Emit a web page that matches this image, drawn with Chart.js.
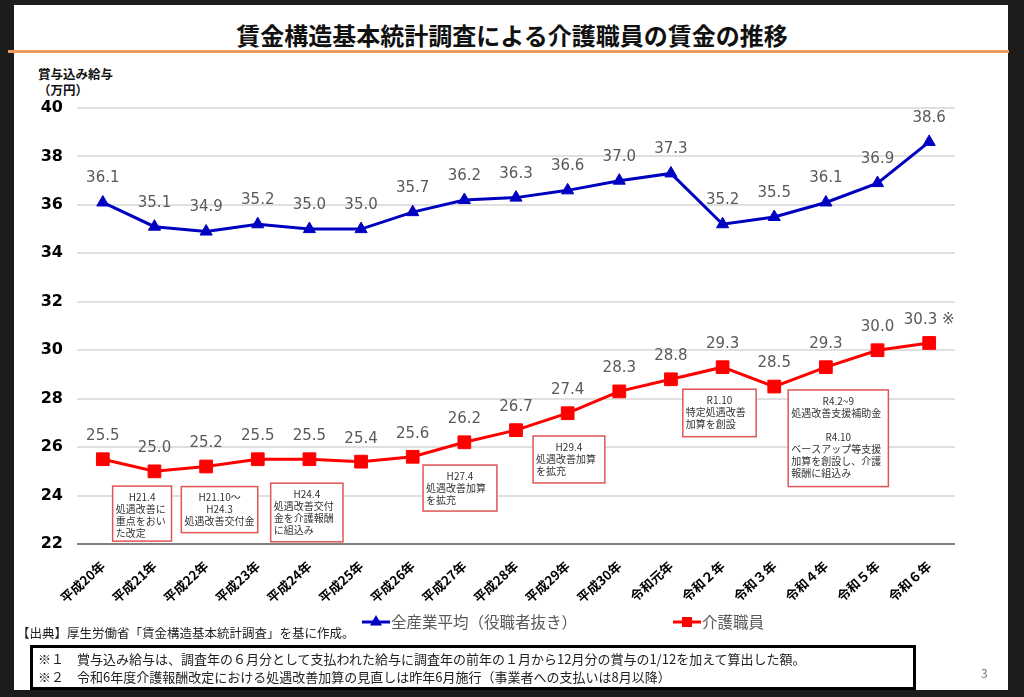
<!DOCTYPE html>
<html lang="ja">
<head>
<meta charset="utf-8">
<title>賃金構造基本統計調査による介護職員の賃金の推移</title>
<script src="https://cdn.jsdelivr.net/npm/chart.js@4.4.1/dist/chart.umd.min.js"></script>
<style>
body{margin:0;width:1024px;height:697px;background:#1c1c1c;overflow:hidden;position:relative;font-family:"Noto Sans CJK JP",sans-serif}
#slide{position:absolute;left:14px;top:5px;width:994px;height:685px;background:#fff}
#title{position:absolute;left:0;top:18px;width:1024px;text-align:center;font-weight:bold;font-size:24px;line-height:34px;color:#111}
#rule{position:absolute;left:8px;top:50px;width:1001px;height:3px;background:#ef9b5c}
#yunit{position:absolute;left:38px;top:66px;font-weight:bold;font-size:12.5px;line-height:16px;color:#111}
#c{position:absolute;left:0;top:0}
#src{position:absolute;left:17px;top:624px;font-size:12.5px;line-height:18px;color:#222}
#notes{position:absolute;left:30px;top:645px;width:886px;height:45px;box-sizing:border-box;border:3px solid #000;padding:2px 0 0 5px;font-size:13px;line-height:18px;color:#222}
#page{position:absolute;left:981px;top:664px;font-size:12px;color:#777}
</style>
</head>
<body>
<div id="slide"></div>
<div id="title">賃金構造基本統計調査による介護職員の賃金の推移</div>
<div id="rule"></div>
<div id="yunit">賞与込み給与<br>（万円）</div>
<canvas id="c" width="1024" height="697"></canvas>
<div id="src">【出典】厚生労働省「賃金構造基本統計調査」を基に作成。</div>
<div id="notes">※１　賞与込み給与は、調査年の６月分として支払われた給与に調査年の前年の１月から12月分の賞与の1/12を加えて算出した額。<br>※２　令和6年度介護報酬改定における処遇改善加算の見直しは昨年6月施行（事業者への支払いは8月以降）</div>
<div id="page">3</div>
<script>
// 年
var years = ["平成20年","平成21年","平成22年","平成23年","平成24年","平成25年","平成26年","平成27年","平成28年","平成29年","平成30年","令和元年","令和２年","令和３年","令和４年","令和５年","令和６年"];
// 万円
var allIndustry = [36.1,35.1,34.9,35.2,35.0,35.0,35.7,36.2,36.3,36.6,37.0,37.3,35.2,35.5,36.1,36.9,38.6];
var careWorkers = [25.5,25.0,25.2,25.5,25.5,25.4,25.6,26.2,26.7,27.4,28.3,28.8,29.3,28.5,29.3,30.0,30.3];
var seriesNames = ["全産業平均（役職者抜き）","介護職員"];
var yTicks = [22,24,26,28,30,32,34,36,38,40];

// 吹き出し（x はカテゴリ位置、top/bottom は目盛の値）
var notes = [
  {x0:0.19,x1:1.33,top:24.39,bottom:22.12,lines:[["c","H21.4"],["l","処遇改善に"],["l","重点をおい"],["l","た改定"]]},
  {x0:1.52,x1:3.00,top:24.37,bottom:22.47,lines:[["c","H21.10～"],["c","H24.3"],["c","処遇改善交付金"]]},
  {x0:3.25,x1:4.65,top:24.51,bottom:22.09,lines:[["c","H24.4"],["l","処遇改善交付"],["l","金を介護報酬"],["l","に組込み"]]},
  {x0:6.20,x1:7.63,top:25.26,bottom:23.36,lines:[["c","H27.4"],["l","処遇改善加算"],["l","を拡充"]]},
  {x0:8.33,x1:9.72,top:26.46,bottom:24.52,lines:[["c","H29.4"],["l","処遇改善加算"],["l","を拡充"]]},
  {x0:11.23,x1:12.65,top:28.39,bottom:26.43,lines:[["c","R1.10"],["l","特定処遇改善"],["l","加算を創設"]]},
  {x0:13.27,x1:15.21,top:28.36,bottom:24.37,lines:[["c","R4.2~9"],["l","処遇改善支援補助金"],["c",""],["c","R4.10"],["l","ベースアップ等支援"],["l","加算を創設し、介護"],["l","報酬に組込み"]]}
];

var valueLabels = {
  id:"valueLabels",
  afterDatasetsDraw:function(chart){
    var ctx = chart.ctx;
    ctx.save();
    ctx.font = '15px "DejaVu Sans"';
    ctx.fillStyle = "#595959";
    ctx.textAlign = "center";
    ctx.textBaseline = "middle";
    chart.data.datasets.forEach(function(ds,i){
      chart.getDatasetMeta(i).data.forEach(function(pt,j){
        var txt = ds.data[j].toFixed(1);
        if(i==1 && j==ds.data.length-1) txt += " ※";
        ctx.fillText(txt, pt.x, pt.y-(i==0?24:23));
      });
    });
    ctx.restore();
  }
};

var noteBoxes = {
  id:"noteBoxes",
  afterDatasetsDraw:function(chart){
    var ctx = chart.ctx, xs = chart.scales.x, ys = chart.scales.y;
    ctx.save();
    ctx.font = '10px "Noto Sans CJK JP"';
    ctx.textBaseline = "middle";
    notes.forEach(function(n){
      var l = xs.getPixelForValue(n.x0), r = xs.getPixelForValue(n.x1);
      var t = ys.getPixelForValue(n.top), b = ys.getPixelForValue(n.bottom);
      ctx.fillStyle = "#fff";
      ctx.fillRect(l,t,r-l,b-t);
      ctx.strokeStyle = "#e05555";
      ctx.lineWidth = 1.5;
      ctx.strokeRect(l,t,r-l,b-t);
      ctx.fillStyle = "#333";
      n.lines.forEach(function(ln,k){
        var y = t+11+k*12;
        if(ln[0]=="c"){ ctx.textAlign="center"; ctx.fillText(ln[1],(l+r)/2,y); }
        else { ctx.textAlign="left"; ctx.fillText(ln[1],l+3,y); }
      });
    });
    ctx.restore();
  }
};

var bottomLegend = {
  id:"bottomLegend",
  afterDraw:function(chart){
    var ctx = chart.ctx;
    var spots = [362,673];
    ctx.save();
    ctx.font = '15.5px "Noto Sans CJK JP"';
    ctx.textBaseline = "middle";
    chart.data.datasets.forEach(function(ds,i){
      var x = spots[i], y = 622;
      ctx.strokeStyle = ds.borderColor;
      ctx.lineWidth = 3;
      ctx.beginPath(); ctx.moveTo(x,y); ctx.lineTo(x+28,y); ctx.stroke();
      ctx.fillStyle = ds.borderColor;
      ctx.beginPath();
      if(ds.pointStyle=="triangle"){ ctx.moveTo(x+14,y-7); ctx.lineTo(x+20,y+3.5); ctx.lineTo(x+8,y+3.5); }
      else { ctx.rect(x+9,y-5,10,10); }
      ctx.fill();
      ctx.fillStyle = "#595959";
      ctx.fillText(seriesNames[i], x+29, y);
    });
    ctx.restore();
  }
};

new Chart(document.getElementById("c"),{
  type:"line",
  data:{
    labels:years,
    datasets:[
      {label:seriesNames[0],data:allIndustry,borderColor:"#0000c0",backgroundColor:"#0000c0",borderWidth:3,
       pointStyle:"triangle",pointRadius:7,pointBorderWidth:1,tension:0},
      {label:seriesNames[1],data:careWorkers,borderColor:"#ff0000",backgroundColor:"#ff0000",borderWidth:3,
       pointStyle:"rect",pointRadius:9,pointBorderWidth:1,tension:0}
    ]
  },
  options:{
    responsive:false,
    animation:false,
    layout:{autoPadding:false,padding:{top:108,right:69,bottom:93,left:0}},
    plugins:{legend:{display:false},tooltip:{enabled:false}},
    scales:{
      x:{
        offset:true,
        grid:{display:false},
        border:{display:false},
        afterFit:function(s){ s.height = 60; },
        ticks:{autoSkip:false,minRotation:42,maxRotation:42,padding:6,color:"#000",
               font:{family:"Noto Sans CJK JP",size:13,weight:"bold"}}
      },
      y:{
        min:22,max:40,
        afterFit:function(s){ s.width = 77; },
        afterBuildTicks:function(s){ s.ticks = yTicks.map(function(v){ return {value:v}; }); },
        border:{display:false},
        grid:{drawTicks:false,lineWidth:2,color:function(c){ return c.tick && c.tick.value==22 ? "#808080" : "#e0e0e0"; }},
        ticks:{padding:14,color:"#000",font:{family:"DejaVu Sans",size:16,weight:"bold"}}
      }
    }
  },
  plugins:[noteBoxes,valueLabels,bottomLegend]
});
</script>
</body>
</html>
